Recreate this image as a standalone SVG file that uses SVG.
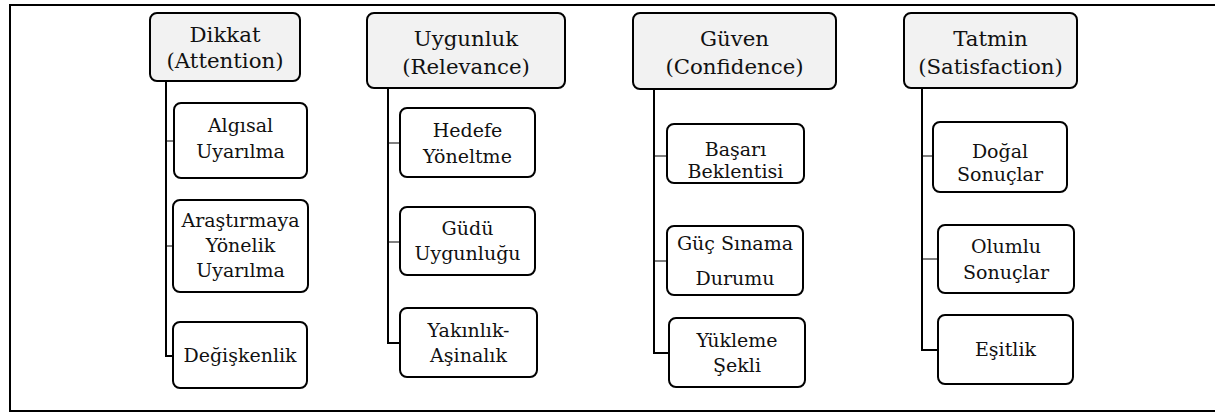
<svg xmlns="http://www.w3.org/2000/svg" width="1215" height="419" viewBox="0 0 1215 419">
<style>
.frame{fill:none;stroke:#000;stroke-width:2}
.hdr{fill:#f2f2f2;stroke:#000;stroke-width:2}
.box{fill:#fff;stroke:#000;stroke-width:2}
.ht{font-family:"DejaVu Serif","Liberation Serif",serif;font-size:21.3px;fill:#111;text-anchor:middle}
.ct{font-family:"DejaVu Serif","Liberation Serif",serif;font-size:19px;fill:#111;text-anchor:middle}
.trunk{fill:none;stroke:#000;stroke-width:2}
.stub{fill:none;stroke:#000;stroke-width:1.2}
</style>
<rect width="1215" height="419" fill="#fff"/>
<path class="frame" d="M1216,5 H10 V411 H1216"/>
<g id="connectors">
<path class="trunk" d="M166,81 V356 H173"/>
<path class="stub" d="M166,141 H174 M166,246 H173"/>
<path class="trunk" d="M388,88 V343 H400"/>
<path class="stub" d="M388,143 H400 M388,242 H400"/>
<path class="trunk" d="M654,89 V353 H669"/>
<path class="stub" d="M654,156 H667 M654,261 H667"/>
<path class="trunk" d="M922,88 V350 H938"/>
<path class="stub" d="M922,156 H933 M922,259 H938"/>
</g>
<g id="dikkat"><rect class="hdr" x="150" y="13" width="150" height="68" rx="7"/><text class="ht" x="225" y="42">Dikkat</text><text class="ht" x="225" y="68">(Attention)</text></g>
<g id="algisal"><rect class="box" x="174" y="103" width="133" height="75" rx="7"/><text class="ct" x="240.5" y="132">Algısal</text><text class="ct" x="240.5" y="158">Uyarılma</text></g>
<g id="arastirmaya"><rect class="box" x="173" y="200" width="135" height="92" rx="7"/><text class="ct" x="240.5" y="227">Araştırmaya</text><text class="ct" x="240.5" y="252">Yönelik</text><text class="ct" x="240.5" y="277">Uyarılma</text></g>
<g id="degiskenlik"><rect class="box" x="173" y="322" width="134" height="66" rx="7"/><text class="ct" x="240" y="362">Değişkenlik</text></g>
<g id="uygunluk"><rect class="hdr" x="367" y="13" width="198" height="75" rx="7"/><text class="ht" x="466" y="46">Uygunluk</text><text class="ht" x="466" y="74">(Relevance)</text></g>
<g id="hedefe"><rect class="box" x="400" y="108" width="135" height="69" rx="7"/><text class="ct" x="467.5" y="137">Hedefe</text><text class="ct" x="467.5" y="163">Yöneltme</text></g>
<g id="gudu"><rect class="box" x="400" y="207" width="135" height="68" rx="7"/><text class="ct" x="467.5" y="235">Güdü</text><text class="ct" x="467.5" y="260">Uygunluğu</text></g>
<g id="yakinlik"><rect class="box" x="400" y="308" width="137" height="69" rx="7"/><text class="ct" x="468.5" y="337">Yakınlık-</text><text class="ct" x="468.5" y="362">Aşinalık</text></g>
<g id="guven"><rect class="hdr" x="633" y="13" width="203" height="76" rx="7"/><text class="ht" x="734.5" y="46">Güven</text><text class="ht" x="734.5" y="74">(Confidence)</text></g>
<g id="basari"><rect class="box" x="667" y="124" width="137" height="59" rx="7"/><text class="ct" x="735.5" y="156">Başarı</text><text class="ct" x="735.5" y="178">Beklentisi</text></g>
<g id="guc"><rect class="box" x="667" y="226" width="136" height="69" rx="7"/><text class="ct" x="735" y="250">Güç Sınama</text><text class="ct" x="735" y="285">Durumu</text></g>
<g id="yukleme"><rect class="box" x="669" y="318" width="136" height="69" rx="7"/><text class="ct" x="737" y="347">Yükleme</text><text class="ct" x="737" y="372">Şekli</text></g>
<g id="tatmin"><rect class="hdr" x="904" y="13" width="173" height="75" rx="7"/><text class="ht" x="990.5" y="46">Tatmin</text><text class="ht" x="990.5" y="74">(Satisfaction)</text></g>
<g id="dogal"><rect class="box" x="933" y="122" width="134" height="70" rx="7"/><text class="ct" x="1000" y="158">Doğal</text><text class="ct" x="1000" y="181">Sonuçlar</text></g>
<g id="olumlu"><rect class="box" x="938" y="225" width="136" height="68" rx="7"/><text class="ct" x="1006" y="253">Olumlu</text><text class="ct" x="1006" y="279">Sonuçlar</text></g>
<g id="esitlik"><rect class="box" x="938" y="315" width="135" height="69" rx="7"/><text class="ct" x="1005.5" y="356">Eşitlik</text></g>
</svg>
